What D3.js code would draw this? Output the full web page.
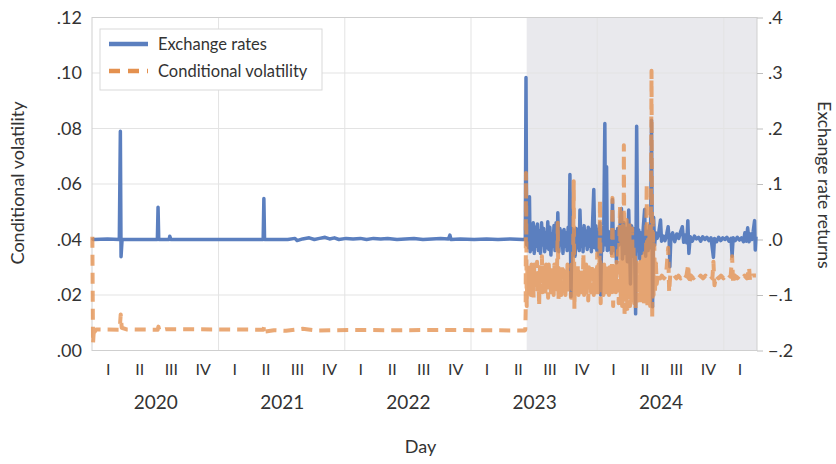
<!DOCTYPE html>
<html lang="en">
<head>
  <meta charset="UTF-8" />
  <title>Exchange rate returns and conditional volatility</title>
  <script src="https://d3js.org/d3.v7.min.js"></script>
  <style>
    body { margin: 0; background: white; font-family: Lato, sans-serif; }
    svg text { fill: #333; font-family: Lato, sans-serif; }
  </style>
</head>
<body>

<svg width="836" height="464"></svg>

<script>
  // exchange rate returns (right axis)
  const rateSeries = [
    ["2020-01-02", 0.003], ["2020-01-05", 0.000], ["2020-02-15", 0.001], ["2020-03-20", 0.000],
    ["2020-03-23", 0.195], ["2020-03-25", -0.031], ["2020-03-28", 0.000], ["2020-05-15", 0.000],
    ["2020-07-08", 0.000], ["2020-07-10", 0.058], ["2020-07-12", 0.000], ["2020-08-11", 0.000],
    ["2020-08-13", 0.006], ["2020-08-16", 0.000], ["2020-11-20", 0.000], ["2021-02-10", 0.000],
    ["2021-05-10", 0.000], ["2021-05-12", 0.074], ["2021-05-14", 0.000], ["2021-07-20", 0.000],
    ["2021-08-10", 0.002], ["2021-08-16", -0.002], ["2021-09-01", 0.001], ["2021-09-20", 0.003],
    ["2021-10-05", 0.000], ["2021-10-20", 0.002], ["2021-11-05", 0.004], ["2021-11-18", 0.001],
    ["2021-12-02", 0.003], ["2021-12-15", 0.000], ["2022-01-05", 0.002], ["2022-01-25", 0.001],
    ["2022-02-15", 0.002], ["2022-03-05", 0.000], ["2022-03-25", 0.002], ["2022-04-15", 0.001],
    ["2022-05-05", 0.002], ["2022-06-01", 0.000], ["2022-06-25", 0.001], ["2022-07-20", 0.002],
    ["2022-08-15", 0.000], ["2022-09-10", 0.001], ["2022-10-05", 0.002], ["2022-10-28", 0.001],
    ["2022-11-01", 0.008], ["2022-11-04", 0.000], ["2022-12-01", 0.001], ["2023-01-10", 0.000],
    ["2023-02-15", 0.001], ["2023-03-20", 0.000], ["2023-04-25", 0.001], ["2023-05-30", 0.000],
    ["2023-06-07", 0.000],
    ["2023-06-09", 0.292], ["2023-06-11", -0.010], ["2023-06-14", 0.018], ["2023-06-17", -0.015],
    ["2023-06-19", 0.077], ["2023-06-21", -0.022], ["2023-06-24", 0.025], ["2023-06-27", -0.018],
    ["2023-06-30", 0.030], ["2023-07-03", -0.025], ["2023-07-06", 0.022], ["2023-07-09", -0.012],
    ["2023-07-12", 0.028], ["2023-07-15", -0.020], ["2023-07-18", 0.015], ["2023-07-21", -0.025],
    ["2023-07-24", 0.030], ["2023-07-27", -0.010], ["2023-07-30", 0.020], ["2023-08-02", -0.022],
    ["2023-08-05", 0.012], ["2023-08-08", -0.015], ["2023-08-11", 0.032], ["2023-08-14", -0.018],
    ["2023-08-17", 0.022], ["2023-08-20", -0.028], ["2023-08-23", 0.010], ["2023-08-26", -0.012],
    ["2023-08-29", 0.025], ["2023-09-01", -0.020], ["2023-09-04", 0.030], ["2023-09-07", -0.015],
    ["2023-09-09", 0.048], ["2023-09-12", -0.022], ["2023-09-15", 0.020], ["2023-09-18", -0.010],
    ["2023-09-21", 0.015], ["2023-09-24", -0.025], ["2023-09-27", 0.018], ["2023-09-30", -0.012],
    ["2023-10-03", 0.012], ["2023-10-06", -0.020], ["2023-10-09", 0.022], ["2023-10-12", -0.015],
    ["2023-10-14", 0.117], ["2023-10-17", -0.103], ["2023-10-20", 0.020], ["2023-10-23", -0.018],
    ["2023-10-26", 0.015], ["2023-10-29", -0.030], ["2023-11-01", 0.020], ["2023-11-04", -0.015],
    ["2023-11-07", 0.018], ["2023-11-10", -0.020], ["2023-11-12", 0.053], ["2023-11-15", -0.012],
    ["2023-11-18", 0.020], ["2023-11-21", -0.022], ["2023-11-24", 0.025], ["2023-11-27", -0.010],
    ["2023-11-30", 0.015], ["2023-12-03", -0.018], ["2023-12-06", 0.022], ["2023-12-09", -0.012],
    ["2023-12-12", 0.018], ["2023-12-15", -0.022], ["2023-12-18", 0.020], ["2023-12-22", 0.090],
    ["2023-12-25", -0.015], ["2023-12-28", 0.025], ["2023-12-31", -0.020], ["2024-01-03", 0.018],
    ["2024-01-06", -0.030], ["2024-01-09", 0.030], ["2024-01-11", -0.100], ["2024-01-14", 0.015],
    ["2024-01-17", -0.020], ["2024-01-20", 0.025], ["2024-01-23", 0.209], ["2024-01-25", -0.010],
    ["2024-01-28", 0.131], ["2024-01-30", -0.020], ["2024-02-02", 0.015], ["2024-02-05", -0.018],
    ["2024-02-08", 0.010], ["2024-02-11", -0.025], ["2024-02-14", 0.072], ["2024-02-17", -0.020],
    ["2024-02-20", 0.015], ["2024-02-23", -0.015], ["2024-02-26", -0.042], ["2024-02-29", 0.020],
    ["2024-03-03", -0.010], ["2024-03-07", 0.025], ["2024-03-11", 0.056], ["2024-03-14", -0.035],
    ["2024-03-18", 0.030], ["2024-03-21", -0.025], ["2024-03-25", 0.020], ["2024-03-28", -0.040],
    ["2024-04-01", 0.053], ["2024-04-04", -0.020], ["2024-04-06", -0.080], ["2024-04-09", 0.025],
    ["2024-04-12", -0.030], ["2024-04-15", 0.020], ["2024-04-18", -0.015], ["2024-04-21", -0.134],
    ["2024-04-24", 0.204], ["2024-04-27", -0.020], ["2024-04-30", 0.017], ["2024-05-03", -0.035],
    ["2024-05-06", 0.012], ["2024-05-09", -0.025], ["2024-05-13", 0.020], ["2024-05-17", 0.054],
    ["2024-05-20", -0.030], ["2024-05-23", 0.015], ["2024-05-27", -0.020], ["2024-05-31", 0.025],
    ["2024-06-03", -0.015], ["2024-06-06", 0.215], ["2024-06-09", -0.121], ["2024-06-12", 0.040],
    ["2024-06-15", -0.010], ["2024-06-18", 0.012], ["2024-06-22", 0.002], ["2024-06-26", 0.008],
    ["2024-07-02", 0.035], ["2024-07-05", -0.003], ["2024-07-10", 0.006], ["2024-07-15", -0.002],
    ["2024-07-20", 0.010], ["2024-07-24", 0.023], ["2024-07-27", 0.000], ["2024-07-29", -0.049],
    ["2024-08-01", 0.005], ["2024-08-06", 0.012], ["2024-08-12", -0.004], ["2024-08-18", 0.010],
    ["2024-08-24", 0.002], ["2024-08-29", 0.014], ["2024-09-03", 0.023], ["2024-09-07", -0.005],
    ["2024-09-12", 0.008], ["2024-09-16", -0.006], ["2024-09-19", 0.034], ["2024-09-22", -0.025],
    ["2024-09-26", 0.005], ["2024-10-02", -0.003], ["2024-10-08", 0.006], ["2024-10-14", 0.001],
    ["2024-10-20", 0.004], ["2024-10-26", -0.003], ["2024-11-01", 0.005], ["2024-11-07", 0.000],
    ["2024-11-13", 0.004], ["2024-11-19", -0.002], ["2024-11-25", 0.003], ["2024-12-02", -0.032],
    ["2024-12-05", 0.002], ["2024-12-11", -0.004], ["2024-12-17", 0.004], ["2024-12-23", -0.002],
    ["2024-12-29", 0.003], ["2025-01-04", 0.000], ["2025-01-10", 0.004], ["2025-01-16", -0.003],
    ["2025-01-22", 0.002], ["2025-01-25", -0.030], ["2025-01-28", 0.003], ["2025-02-03", -0.002],
    ["2025-02-09", 0.004], ["2025-02-15", -0.001], ["2025-02-21", 0.003], ["2025-02-27", -0.004],
    ["2025-03-03", 0.012], ["2025-03-07", -0.003], ["2025-03-11", 0.021], ["2025-03-15", -0.004],
    ["2025-03-19", 0.010], ["2025-03-23", 0.000], ["2025-03-27", 0.015], ["2025-03-31", 0.034],
    ["2025-04-02", -0.019], ["2025-04-04", 0.005]
  ];

  // conditional volatility (left axis)
  const volSeries = [
    ["2020-01-02", 0.041], ["2020-01-04", 0.0025], ["2020-01-07", 0.0088], ["2020-01-09", 0.0068],
    ["2020-01-13", 0.0076], ["2020-03-21", 0.0075], ["2020-03-24", 0.0130], ["2020-03-27", 0.0082],
    ["2020-04-10", 0.0076], ["2020-07-09", 0.0075], ["2020-07-11", 0.0086], ["2020-07-14", 0.0072],
    ["2020-08-01", 0.0077], ["2021-01-01", 0.0076], ["2021-05-11", 0.0075], ["2021-05-13", 0.0088],
    ["2021-05-16", 0.0068], ["2021-06-10", 0.0073], ["2021-07-15", 0.0071], ["2021-09-01", 0.0078],
    ["2021-10-15", 0.0072], ["2022-01-10", 0.0074], ["2022-06-01", 0.0073], ["2022-11-01", 0.0074],
    ["2023-03-01", 0.0073], ["2023-06-06", 0.0072], ["2023-06-07", 0.0076], ["2023-06-08", 0.0140],
    ["2023-06-09", 0.064], ["2023-06-11", 0.016], ["2023-06-13", 0.030], ["2023-06-15", 0.021],
    ["2023-06-17", 0.031], ["2023-06-19", 0.022], ["2023-06-21", 0.029], ["2023-06-23", 0.020],
    ["2023-06-25", 0.031], ["2023-06-27", 0.023], ["2023-06-29", 0.028], ["2023-07-01", 0.019],
    ["2023-07-03", 0.031], ["2023-07-05", 0.022], ["2023-07-07", 0.029], ["2023-07-09", 0.023],
    ["2023-07-11", 0.032], ["2023-07-13", 0.021], ["2023-07-15", 0.028], ["2023-07-17", 0.016],
    ["2023-07-19", 0.030], ["2023-07-21", 0.022], ["2023-07-23", 0.028], ["2023-07-25", 0.034],
    ["2023-07-27", 0.021], ["2023-07-29", 0.030], ["2023-07-31", 0.023], ["2023-08-02", 0.029],
    ["2023-08-04", 0.020], ["2023-08-06", 0.031], ["2023-08-08", 0.022], ["2023-08-10", 0.028],
    ["2023-08-12", 0.019], ["2023-08-14", 0.031], ["2023-08-16", 0.023], ["2023-08-18", 0.029],
    ["2023-08-20", 0.021], ["2023-08-22", 0.030], ["2023-08-24", 0.022], ["2023-08-26", 0.028],
    ["2023-08-28", 0.020], ["2023-08-30", 0.031], ["2023-09-01", 0.022], ["2023-09-03", 0.029],
    ["2023-09-05", 0.021], ["2023-09-07", 0.031], ["2023-09-09", 0.046], ["2023-09-11", 0.018],
    ["2023-09-13", 0.030], ["2023-09-15", 0.022], ["2023-09-17", 0.028], ["2023-09-19", 0.020],
    ["2023-09-21", 0.031], ["2023-09-23", 0.022], ["2023-09-25", 0.029], ["2023-09-27", 0.023],
    ["2023-09-29", 0.028], ["2023-10-01", 0.020], ["2023-10-03", 0.030], ["2023-10-05", 0.022],
    ["2023-10-07", 0.031], ["2023-10-09", 0.021], ["2023-10-11", 0.028], ["2023-10-13", 0.023],
    ["2023-10-15", 0.029], ["2023-10-17", 0.019], ["2023-10-19", 0.031], ["2023-10-21", 0.022],
    ["2023-10-23", 0.028], ["2023-10-25", 0.061], ["2023-10-27", 0.015], ["2023-10-29", 0.030],
    ["2023-10-31", 0.021], ["2023-11-02", 0.029], ["2023-11-04", 0.023], ["2023-11-06", 0.031],
    ["2023-11-08", 0.020], ["2023-11-10", 0.028], ["2023-11-12", 0.022], ["2023-11-14", 0.030],
    ["2023-11-16", 0.021], ["2023-11-18", 0.028], ["2023-11-20", 0.023], ["2023-11-22", 0.035],
    ["2023-11-24", 0.020], ["2023-11-26", 0.029], ["2023-11-28", 0.022], ["2023-11-30", 0.031],
    ["2023-12-02", 0.021], ["2023-12-04", 0.028], ["2023-12-06", 0.018], ["2023-12-08", 0.030],
    ["2023-12-10", 0.023], ["2023-12-12", 0.029], ["2023-12-14", 0.021], ["2023-12-16", 0.031],
    ["2023-12-18", 0.022], ["2023-12-20", 0.028], ["2023-12-22", 0.020], ["2023-12-24", 0.030],
    ["2023-12-26", 0.023], ["2023-12-28", 0.029], ["2023-12-30", 0.021], ["2024-01-01", 0.035],
    ["2024-01-03", 0.020], ["2024-01-05", 0.031], ["2024-01-07", 0.022], ["2024-01-09", 0.054],
    ["2024-01-11", 0.017], ["2024-01-13", 0.030], ["2024-01-15", 0.021], ["2024-01-17", 0.029],
    ["2024-01-19", 0.020], ["2024-01-21", 0.031], ["2024-01-23", 0.023], ["2024-01-25", 0.028],
    ["2024-01-27", 0.021], ["2024-01-29", 0.031], ["2024-01-31", 0.022], ["2024-02-02", 0.029],
    ["2024-02-04", 0.020], ["2024-02-06", 0.030], ["2024-02-08", 0.023], ["2024-02-10", 0.028],
    ["2024-02-12", 0.021], ["2024-02-14", 0.055], ["2024-02-16", 0.016], ["2024-02-18", 0.031],
    ["2024-02-20", 0.022], ["2024-02-22", 0.029], ["2024-02-24", 0.021], ["2024-02-26", 0.032],
    ["2024-02-28", 0.020], ["2024-03-01", 0.036], ["2024-03-03", 0.017], ["2024-03-05", 0.040],
    ["2024-03-07", 0.052], ["2024-03-09", 0.018], ["2024-03-11", 0.042], ["2024-03-13", 0.016],
    ["2024-03-15", 0.045], ["2024-03-17", 0.020], ["2024-03-18", 0.074], ["2024-03-20", 0.012],
    ["2024-03-22", 0.044], ["2024-03-24", 0.017], ["2024-03-26", 0.047], ["2024-03-28", 0.015],
    ["2024-03-30", 0.043], ["2024-04-01", 0.019], ["2024-04-03", 0.046], ["2024-04-05", 0.016],
    ["2024-04-07", 0.040], ["2024-04-09", 0.018], ["2024-04-11", 0.044], ["2024-04-13", 0.020],
    ["2024-04-15", 0.038], ["2024-04-17", 0.017], ["2024-04-19", 0.035], ["2024-04-21", 0.015],
    ["2024-04-23", 0.033], ["2024-04-25", 0.020], ["2024-04-27", 0.031], ["2024-04-29", 0.018],
    ["2024-05-01", 0.030], ["2024-05-03", 0.021], ["2024-05-05", 0.032], ["2024-05-07", 0.017],
    ["2024-05-09", 0.029], ["2024-05-11", 0.020], ["2024-05-13", 0.034], ["2024-05-15", 0.016],
    ["2024-05-17", 0.036], ["2024-05-19", 0.019], ["2024-05-21", 0.033], ["2024-05-23", 0.060],
    ["2024-05-25", 0.016], ["2024-05-27", 0.040], ["2024-05-29", 0.018], ["2024-05-31", 0.044],
    ["2024-06-02", 0.016], ["2024-06-04", 0.045], ["2024-06-06", 0.1008], ["2024-06-08", 0.0116],
    ["2024-06-10", 0.047], ["2024-06-12", 0.020], ["2024-06-14", 0.038], ["2024-06-16", 0.021],
    ["2024-06-18", 0.033], ["2024-06-21", 0.024], ["2024-06-25", 0.028], ["2024-07-01", 0.026],
    ["2024-07-06", 0.027], ["2024-07-12", 0.026], ["2024-07-18", 0.027], ["2024-07-24", 0.037],
    ["2024-07-27", 0.021], ["2024-07-30", 0.027], ["2024-08-05", 0.026], ["2024-08-11", 0.027],
    ["2024-08-17", 0.026], ["2024-08-23", 0.027], ["2024-08-29", 0.026], ["2024-09-04", 0.027],
    ["2024-09-10", 0.026], ["2024-09-15", 0.027], ["2024-09-20", 0.031], ["2024-09-23", 0.024],
    ["2024-09-28", 0.027], ["2024-10-05", 0.026], ["2024-10-12", 0.027], ["2024-10-19", 0.026],
    ["2024-10-26", 0.027], ["2024-11-02", 0.026], ["2024-11-09", 0.027], ["2024-11-16", 0.026],
    ["2024-11-23", 0.027], ["2024-11-29", 0.026], ["2024-12-02", 0.032], ["2024-12-05", 0.0235],
    ["2024-12-10", 0.027], ["2024-12-17", 0.026], ["2024-12-24", 0.027], ["2024-12-31", 0.026],
    ["2025-01-07", 0.027], ["2025-01-14", 0.026], ["2025-01-21", 0.027], ["2025-01-25", 0.034],
    ["2025-01-28", 0.024], ["2025-02-02", 0.027], ["2025-02-09", 0.026], ["2025-02-16", 0.027],
    ["2025-02-23", 0.026], ["2025-03-02", 0.027], ["2025-03-09", 0.026], ["2025-03-15", 0.030],
    ["2025-03-18", 0.025], ["2025-03-25", 0.027], ["2025-04-04", 0.027]
  ];

  const shadeStart = "2023-06-11";
  const dateRange = ["2020-01-01", "2025-04-07"];
  const years = [2020, 2021, 2022, 2023, 2024];
  const quarterLabels = ["I", "II", "III", "IV"];
  const leftTicks = [0, 0.02, 0.04, 0.06, 0.08, 0.10, 0.12];
  const rightTicks = [-0.2, -0.1, 0, 0.1, 0.2, 0.3, 0.4];
  const legendItems = ["Exchange rates", "Conditional volatility"];

  const parse = d3.timeParse("%Y-%m-%d");
  const svg = d3.select("svg");
  const margin = { top: 17.5, right: 79, bottom: 113.5, left: 92 };
  const width = +svg.attr("width");
  const height = +svg.attr("height");
  const x0 = margin.left, x1 = width - margin.right;
  const y0 = margin.top, y1 = height - margin.bottom;

  const x = d3.scaleTime().domain(dateRange.map(parse)).range([x0, x1]);
  const yL = d3.scaleLinear().domain([0, 0.12]).range([y1, y0]);
  const yR = d3.scaleLinear().domain([-0.2, 0.4]).range([y1, y0]);

  const blue = "#5b7fbf";
  const orange = "#e4914f";

  // shaded period
  svg.append("rect")
    .attr("x", x(parse(shadeStart)))
    .attr("y", y0)
    .attr("width", x1 - x(parse(shadeStart)))
    .attr("height", y1 - y0)
    .attr("fill", "#e9e9ed");

  // grid
  svg.append("g").selectAll("line")
    .data(leftTicks.slice(1, -1))
    .join("line")
    .attr("x1", x0).attr("x2", x1)
    .attr("y1", d => yL(d)).attr("y2", d => yL(d))
    .attr("stroke", "#e3e3e3").attr("stroke-width", 1);

  svg.append("g").selectAll("line")
    .data(years.slice(1).concat([2025]))
    .join("line")
    .attr("x1", d => x(new Date(d, 0, 1))).attr("x2", d => x(new Date(d, 0, 1)))
    .attr("y1", y0).attr("y2", y1)
    .attr("stroke", "#e3e3e3").attr("stroke-width", 1);

  // frame
  svg.append("rect")
    .attr("x", x0).attr("y", y0)
    .attr("width", x1 - x0).attr("height", y1 - y0)
    .attr("fill", "none").attr("stroke", "#cfcfcf").attr("stroke-width", 1);

  // left axis
  const fmtL = d => d3.format(".2f")(d).replace(/^0/, "");
  const leftAxis = svg.append("g")
    .attr("transform", `translate(${x0},0)`)
    .call(d3.axisLeft(yL).tickValues(leftTicks).tickSize(0).tickPadding(10).tickFormat(fmtL));
  leftAxis.select(".domain").remove();
  leftAxis.selectAll("text").style("font-size", "18px");

  // right axis
  const fmtR = d => d3.format(".1f")(d).replace("0.", ".");
  const rightAxis = svg.append("g")
    .attr("transform", `translate(${x1},0)`)
    .call(d3.axisRight(yR).tickValues(rightTicks).tickSize(6).tickPadding(5).tickFormat(fmtR));
  rightAxis.select(".domain").remove();
  rightAxis.selectAll("line").attr("stroke", "#bfbfbf");
  rightAxis.selectAll("text").style("font-size", "18px");

  // quarter labels
  const quarters = [];
  years.concat([2025]).forEach(yr => {
    quarterLabels.forEach((q, i) => {
      if (yr === 2025 && i > 0) return;
      const a = new Date(yr, i * 3, 1), b = new Date(yr, i * 3 + 3, 1);
      quarters.push({ date: new Date((+a + +b) / 2), label: q });
    });
  });
  const qAxis = svg.append("g")
    .attr("transform", `translate(0,${y1})`)
    .call(d3.axisBottom(x).tickValues(quarters.map(d => d.date)).tickSize(0).tickPadding(13)
      .tickFormat((d, i) => quarters[i].label));
  qAxis.select(".domain").remove();
  qAxis.selectAll("text").style("font-size", "16px");

  const yearMid = years.map(yr => new Date((+new Date(yr, 0, 1) + +new Date(yr + 1, 0, 1)) / 2));
  const yAxisYears = svg.append("g")
    .attr("transform", `translate(0,${y1})`)
    .call(d3.axisBottom(x).tickValues(yearMid).tickSize(0).tickPadding(45)
      .tickFormat(d3.timeFormat("%Y")));
  yAxisYears.select(".domain").remove();
  yAxisYears.selectAll("text").style("font-size", "19px");

  // axis titles
  svg.append("text")
    .attr("transform", `translate(18,183) rotate(-90)`)
    .attr("text-anchor", "middle").attr("dy", "0.35em")
    .style("font-size", "18px")
    .text("Conditional volatility");

  svg.append("text")
    .attr("transform", `translate(824,185) rotate(90)`)
    .attr("text-anchor", "middle").attr("dy", "0.35em")
    .style("font-size", "17.5px")
    .text("Exchange rate returns");

  svg.append("text")
    .attr("x", (x0 + x1) / 2 - 4).attr("y", 447)
    .attr("text-anchor", "middle").attr("dy", "0.35em")
    .style("font-size", "18px")
    .text("Day");

  // series
  const rateLine = d3.line().x(d => x(parse(d[0]))).y(d => yR(d[1]));
  const volLine = d3.line().x(d => x(parse(d[0]))).y(d => yL(d[1]));

  svg.append("path")
    .datum(rateSeries)
    .attr("d", rateLine)
    .attr("fill", "none")
    .attr("stroke", blue)
    .attr("stroke-width", 3.5)
    .attr("stroke-linejoin", "round");

  svg.append("path")
    .datum(volSeries)
    .attr("d", volLine)
    .attr("fill", "none")
    .attr("stroke", orange)
    .attr("stroke-opacity", 0.78)
    .attr("stroke-width", 4)
    .attr("stroke-dasharray", "11,7")
    .attr("stroke-linejoin", "round");

  // legend
  const legend = svg.append("g").attr("transform", "translate(100,29)");
  legend.append("rect")
    .attr("width", 222).attr("height", 61)
    .attr("fill", "white").attr("stroke", "#d9d9d9");
  legendItems.forEach((name, i) => {
    const ly = 15 + i * 27;
    legend.append("line")
      .attr("x1", 9).attr("x2", 48).attr("y1", ly).attr("y2", ly)
      .attr("stroke", i === 0 ? blue : orange)
      .attr("stroke-width", 4.5)
      .attr("stroke-dasharray", i === 0 ? null : "11,8");
    legend.append("text")
      .attr("x", 58).attr("y", ly).attr("dy", "0.35em")
      .style("font-size", "16.5px")
      .text(name);
  });
</script>

</body>
</html>
